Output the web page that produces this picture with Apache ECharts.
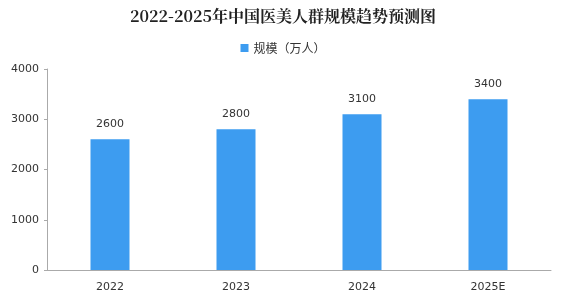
<!DOCTYPE html>
<html><head><meta charset="utf-8">
<script src="https://cdn.jsdelivr.net/npm/echarts@6/dist/echarts.min.js"></script>
<style>html,body{margin:0;padding:0;background:#fff}#c{width:566px;height:300px}</style>
</head><body><div id="c"></div>
<script>
const categories = ['2022', '2023', '2024', '2025E'];
const values = [2600, 2800, 3100, 3400];
const seriesName = '规模（万人）';
const titleText = '2022-2025年中国医美人群规模趋势预测图';

const chart = echarts.init(document.getElementById('c'));
chart.setOption({
  animation: false,
  backgroundColor: '#fff',
  title: {
    text: titleText, left: 'center', top: 3,
    textStyle: { fontFamily: 'Noto Serif CJK SC, Noto Sans CJK SC, serif', fontWeight: 'bold', fontSize: 16, color: '#222' }
  },
  legend: {
    top: 37, left: 'center', itemWidth: 8, itemHeight: 8, icon: 'rect',
    textStyle: { fontFamily: 'Noto Sans CJK SC', fontSize: 12, color: '#333' },
    data: [seriesName]
  },
  grid: { left: 47, right: 15, top: 69, bottom: 30 },
  xAxis: {
    type: 'category', data: categories,
    axisLine: { lineStyle: { color: '#aaa' } },
    axisTick: { show: false },
    axisLabel: { color: '#333', fontSize: 11, margin: 12, fontFamily: 'DejaVu Sans' }
  },
  yAxis: {
    type: 'value', min: 0, max: 4000, interval: 1000,
    axisLine: { show: true, lineStyle: { color: '#aaa' } },
    axisTick: { show: true, length: 3, lineStyle: { color: '#aaa' } },
    splitLine: { show: false },
    axisLabel: { color: '#333', fontSize: 11, margin: 8, fontFamily: 'DejaVu Sans', formatter: v => String(v) }
  },
  series: [{
    name: seriesName, type: 'bar', data: values, barWidth: 39,
    itemStyle: { color: '#3d9cf0' },
    label: { show: true, position: 'top', distance: 10, color: '#333', fontSize: 11, fontFamily: 'DejaVu Sans' }
  }]
});
</script></body></html>
